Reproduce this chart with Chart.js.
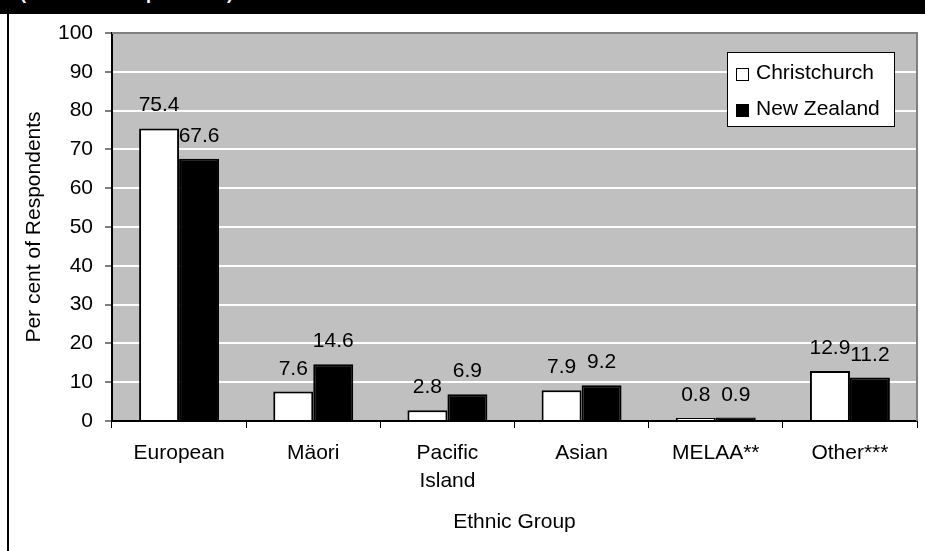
<!DOCTYPE html>
<html><head><meta charset="utf-8">
<script src="https://cdn.jsdelivr.net/npm/chart.js@4/dist/chart.umd.min.js"></script>
<style>
html,body{margin:0;padding:0;background:#fff;}
#wrap{position:relative;width:925px;height:551px;overflow:hidden;background:#fff;}
#band{position:absolute;left:0;top:0;width:925px;height:14px;background:#000;overflow:hidden;z-index:2;}
#band span{position:absolute;left:20px;top:-16px;font:bold 18px/18px 'Liberation Sans',Arial,sans-serif;color:#fff;white-space:nowrap;}
#lborder{position:absolute;left:7px;top:14px;width:2px;height:537px;background:#000;z-index:2;}
canvas{position:absolute;left:0;top:0;}
</style>
</head><body>
<div id="wrap">
  <div id="band"><span>(Percent of respondents)</span></div>
  <div id="lborder"></div>
  <canvas id="c" width="925" height="551"></canvas>
</div>
<script>
const categories = ['European', 'Mäori', ['Pacific', 'Island'], 'Asian', 'MELAA**', 'Other***'];
const seriesNames = ['Christchurch', 'New Zealand'];
const christchurch = [75.4, 7.6, 2.8, 7.9, 0.8, 12.9];
const newZealand = [67.6, 14.6, 6.9, 9.2, 0.9, 11.2];
const yMin = 0, yMax = 100, yStep = 10;
const yTitle = 'Per cent of Respondents';
const xTitle = 'Ethnic Group';

const FONT = "'Liberation Sans', Arial, sans-serif";
const FS = 21;
Chart.defaults.font.family = FONT;
Chart.defaults.color = '#000';

const plotBg = {
  id: 'plotBg',
  beforeDraw(chart) {
    const {ctx, chartArea: a} = chart;
    ctx.save();
    ctx.fillStyle = '#c0c0c0';
    ctx.fillRect(a.left, a.top, a.right - a.left, a.bottom - a.top);
    ctx.restore();
  },
  beforeDatasetsDraw(chart) {
    const {ctx, chartArea: a} = chart;
    ctx.save();
    ctx.strokeStyle = '#808080';
    ctx.lineWidth = 2;
    ctx.beginPath();
    ctx.moveTo(a.left, a.top);
    ctx.lineTo(a.right, a.top);
    ctx.lineTo(a.right, a.bottom);
    ctx.stroke();
    ctx.restore();
  }
};

const dataLabels = {
  id: 'dataLabels',
  afterDatasetsDraw(chart) {
    const {ctx} = chart;
    ctx.save();
    ctx.font = FS + 'px ' + FONT;
    ctx.fillStyle = '#000';
    ctx.textAlign = 'center';
    ctx.textBaseline = 'alphabetic';
    chart.data.datasets.forEach((ds, i) => {
      chart.getDatasetMeta(i).data.forEach((el, j) => {
        ctx.fillText(ds.data[j].toFixed(1), el.x, el.y - 17);
      });
    });
    ctx.restore();
  }
};

const boxLegend = {
  id: 'boxLegend',
  afterDraw(chart) {
    const {ctx} = chart;
    ctx.save();
    ctx.fillStyle = '#fff';
    ctx.fillRect(727, 52, 168, 75);
    ctx.strokeStyle = '#000';
    ctx.lineWidth = 1;
    ctx.strokeRect(727.5, 52.5, 167, 74);
    ctx.font = FS + 'px ' + FONT;
    ctx.textAlign = 'left';
    ctx.textBaseline = 'alphabetic';
    chart.data.datasets.forEach((ds, i) => {
      const sy = 68 + i * 36;
      ctx.fillStyle = ds.backgroundColor;
      ctx.fillRect(736, sy, 13, 13);
      ctx.strokeStyle = '#000';
      ctx.strokeRect(736.5, sy + 0.5, 12, 12);
      ctx.fillStyle = '#000';
      ctx.fillText(ds.label, 756, 79 + i * 36);
    });
    ctx.restore();
  }
};

new Chart(document.getElementById('c'), {
  type: 'bar',
  data: {
    labels: categories,
    datasets: [
      {label: seriesNames[0], data: christchurch, backgroundColor: '#ffffff', borderColor: '#000', borderWidth: 2,
       categoryPercentage: 0.596, barPercentage: 1},
      {label: seriesNames[1], data: newZealand, backgroundColor: '#000000', borderColor: '#000', borderWidth: 2,
       categoryPercentage: 0.596, barPercentage: 1}
    ]
  },
  options: {
    responsive: false,
    animation: false,
    layout: {padding: {left: 10, top: 33, right: 8, bottom: 0}},
    plugins: {legend: {display: false}, tooltip: {enabled: false}, title: {display: false}},
    scales: {
      x: {
        ticks: {color: '#000', font: {size: FS, lineHeight: 1.35}, padding: 11, maxRotation: 0, autoSkip: false},
        grid: {display: true, drawOnChartArea: false, offset: true, tickLength: 7, tickColor: '#000', tickWidth: 1},
        border: {color: '#000', width: 2},
        title: {display: true, text: xTitle, color: '#000', font: {size: FS}, padding: {top: 0, bottom: 16}},
        afterFit(s) { s.height = 130; }
      },
      y: {
        min: yMin, max: yMax,
        ticks: {stepSize: yStep, color: '#000', font: {size: FS}, padding: 12},
        grid: {color: '#ffffff', lineWidth: 2, tickLength: 7, tickColor: '#000', tickWidth: 1},
        border: {color: '#000', width: 2},
        title: {display: true, text: yTitle, color: '#000', font: {size: FS}, padding: {top: 12, bottom: 0}},
        afterFit(s) { s.width = 102; }
      }
    }
  },
  plugins: [plotBg, dataLabels, boxLegend]
});
</script>
</body></html>
